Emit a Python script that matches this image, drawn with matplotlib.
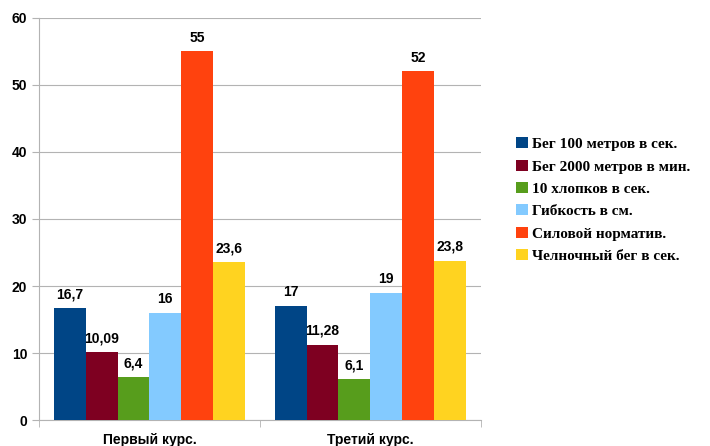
import numpy as np
import matplotlib.pyplot as plt

# data
courses = ['Первый курс.', 'Третий курс.']
series = ['Бег 100 метров в сек.', 'Бег 2000 метров в мин.', '10 хлопков в сек.',
          'Гибкость в см.', 'Силовой норматив.', 'Челночный бег в сек.']
values = [
    [16.7, 17],
    [10.09, 11.28],
    [6.4, 6.1],
    [16, 19],
    [55, 52],
    [23.6, 23.8],
]
labels = [
    ['16,7', '17'],
    ['10,09', '11,28'],
    ['6,4', '6,1'],
    ['16', '19'],
    ['55', '52'],
    ['23,6', '23,8'],
]
colors = ['#004586', '#7e0021', '#579d1c', '#83caff', '#ff420e', '#ffd320']

plt.rcParams['font.family'] = ['Liberation Sans', 'DejaVu Sans']

fig = plt.figure(figsize=(7.1, 4.46), dpi=100)
ax = fig.add_axes([0.055, 0.058, 0.622, 0.902])

n = len(series)
group_w = 0.865
bar_w = group_w / n
x = np.arange(len(courses)) + 0.5

for i, (name, vals, lbls, c) in enumerate(zip(series, values, labels, colors)):
    pos = x - group_w / 2 + bar_w * (i + 0.5)
    ax.bar(pos, vals, width=bar_w, color=c, label=name, zorder=3)
    for p, v, t in zip(pos, vals, lbls):
        ax.text(p, v + 1.0, t, ha='center', va='bottom', fontsize=10,
                fontweight='bold', zorder=4)

ax.set_xlim(0, 2)
ax.set_ylim(0, 60)
ax.set_yticks(range(0, 61, 10))
ax.set_xticks(x)
ax.set_xticklabels(courses, fontsize=10, fontweight='bold')
ax.set_xticks([0, 1, 2], minor=True)
ax.tick_params(axis='x', which='major', length=0, pad=9)
ax.tick_params(axis='x', which='minor', length=5, color='#b3b3b3')
ax.tick_params(axis='y', length=5, color='#b3b3b3', labelsize=10)
for t in ax.get_yticklabels():
    t.set_fontweight('bold')

ax.grid(axis='y', color='#b3b3b3', linewidth=0.8, zorder=0)
for s in ['top', 'right']:
    ax.spines[s].set_visible(False)
for s in ['left', 'bottom']:
    ax.spines[s].set_color('#b3b3b3')

leg = ax.legend(loc='center left', bbox_to_anchor=(1.081, 0.547), frameon=False,
                prop={'family': 'Liberation Serif', 'weight': 'bold', 'size': 11},
                handlelength=0.75, handleheight=0.75, handletextpad=0.3,
                labelspacing=0.55, borderpad=0, borderaxespad=0)

fig.savefig('out.png', dpi=100)
